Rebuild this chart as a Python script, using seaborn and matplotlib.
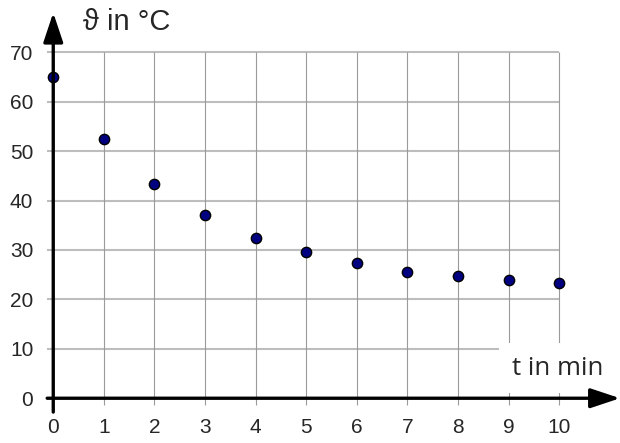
import pandas as pd
import matplotlib
matplotlib.use("Agg")
import matplotlib.pyplot as plt
import seaborn as sns

# cooling curve data
t_min = [0, 1, 2, 3, 4, 5, 6, 7, 8, 9, 10]
temp_c = [65, 52.4, 43.4, 37.0, 32.4, 29.5, 27.3, 25.6, 24.7, 24.0, 23.4]
x_ticks = [0, 1, 2, 3, 4, 5, 6, 7, 8, 9, 10]
y_ticks = [0, 10, 20, 30, 40, 50, 60, 70]

df = pd.DataFrame({"t": t_min, "temp": temp_c})

sns.set_style("white")
plt.rcParams['font.family'] = ['Liberation Sans', 'DejaVu Sans']

fig = plt.figure(figsize=(6.2, 4.43), dpi=100)
ax = fig.add_axes([0.0761, 0.0698, 0.9239, 0.9016])
ax.set_xlim(-0.12, 11.2)
ax.set_ylim(-2.8, 78)

# grid
ax.hlines(y_ticks[1:], -0.12, x_ticks[-1], color="#bdbdbd", lw=1.5, zorder=1)
ax.vlines(x_ticks[1:], -1.4, y_ticks[-1], color="#9a9a9a", lw=0.8, zorder=1)

sns.scatterplot(data=df, x="t", y="temp", ax=ax, s=55, color="#000080",
                edgecolor="black", linewidth=1, zorder=5, clip_on=False)

# axes with arrows
arrow = dict(arrowstyle="-|>,head_length=0.9,head_width=0.3", lw=2.4,
             color="black", shrinkA=0, shrinkB=0, mutation_scale=20)
ax.annotate("", xy=(0, 78), xytext=(0, -2.8), arrowprops=arrow,
            annotation_clip=False, zorder=6)
ax.annotate("", xy=(11.2, 0), xytext=(-0.12, 0), arrowprops=arrow,
            annotation_clip=False, zorder=6)

for s in ax.spines.values():
    s.set_visible(False)

ax.set_xticks(x_ticks)
ax.set_yticks(y_ticks)
ax.tick_params(axis="x", length=0, pad=4, labelsize=15)
ax.tick_params(axis="y", length=0, pad=10, labelsize=15)
ax.set_xlabel("")
ax.set_ylabel("")

ax.text(1.46, 76.1, "ϑ in °C", fontsize=21, ha="center", va="center")
ax.text(9.97, 6.1, "t in min", fontsize=18.5, ha="center", va="center",
        family=["Open Sans", "DejaVu Sans"], zorder=4,
        bbox=dict(boxstyle="square,pad=0.5", facecolor="white", edgecolor="none"))

fig.savefig("out.png", dpi=100)
